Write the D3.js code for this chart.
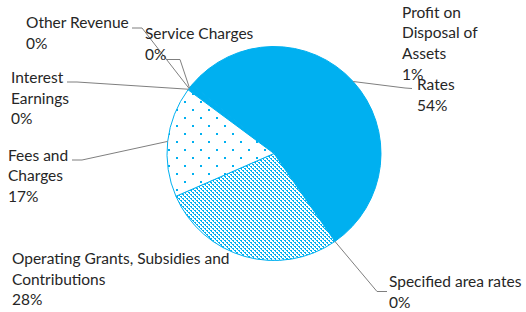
<!DOCTYPE html>
<html>
<head>
<meta charset="utf-8">
<script src="https://cdn.jsdelivr.net/npm/d3@7"></script>
<style>
  body { margin: 0; background: #fff; }
  text { font-family: Lato, "Open Sans", sans-serif; font-size: 15.5px; fill: #262626; }
</style>
</head>
<body>
<svg id="chart" width="526" height="312"></svg>
<script>
// revenue categories, clockwise from the top-left of the pie
const categories = ['Interest Earnings', 'Other Revenue', 'Service Charges', 'Profit on Disposal of Assets',
  'Rates', 'Specified area rates', 'Operating Grants, Subsidies and Contributions', 'Fees and Charges']
const shares = [0.2, 0.1, 0.1, 0.6, 54.2, 0.0, 28.1, 16.7]
const percentLabels = ['0%', '0%', '0%', '1%', '54%', '0%', '28%', '17%']

// label text lines as the chart wraps them
const labelLines = [
  ['Interest', 'Earnings'],
  ['Other Revenue'],
  ['Service Charges'],
  ['Profit on', 'Disposal of', 'Assets'],
  ['Rates'],
  ['Specified area rates'],
  ['Operating Grants, Subsidies and', 'Contributions'],
  ['Fees and', 'Charges']
]

// where each label was dragged to, plus the leader line's bend and end
const labelLayout = {
  'Interest Earnings': {x: 11, y: 83, bend: [77, 82], end: [67, 82]},
  'Other Revenue': {x: 26, y: 28, bend: [142, 28], end: [132, 28]},
  'Service Charges': {x: 145, y: 39, bend: [180, 59.5], end: [166, 59.5]},
  'Profit on Disposal of Assets': {x: 402, y: 17.5},
  'Rates': {x: 417, y: 90, bend: [405, 88], end: [412, 88.5]},
  'Specified area rates': {x: 389, y: 287, bend: [377, 291.5], end: [387, 291.5]},
  'Operating Grants, Subsidies and Contributions': {x: 12, y: 264},
  'Fees and Charges': {x: 8, y: 160.5, bend: [82, 160], end: [72, 160]}
}

const blue = '#00b0f0'
const cx = 274, cy = 153.5, radius = 107
const lineGap = 20.7

const svg = d3.select('#chart')
const defs = svg.append('defs')

// pattern offsets undo the pie group's translate so the pixels stay crisp
let dots = defs.append('pattern')
  .attr('id', 'dots')
  .attr('patternUnits', 'userSpaceOnUse')
  .attr('x', -2).attr('y', 7.5)
  .attr('width', 16).attr('height', 16)
dots.append('rect').attr('width', 16).attr('height', 16).attr('fill', '#fff')
dots.append('rect').attr('x', 8).attr('y', 4).attr('width', 2).attr('height', 2).attr('fill', blue)
dots.append('rect').attr('x', 0).attr('y', 12).attr('width', 2).attr('height', 2).attr('fill', blue)

let diag = defs.append('pattern')
  .attr('id', 'diag')
  .attr('patternUnits', 'userSpaceOnUse')
  .attr('x', 0).attr('y', 0.5)
  .attr('width', 4).attr('height', 4)
diag.append('rect').attr('width', 4).attr('height', 4).attr('fill', '#fff')
;[[0, 0], [1, 1], [2, 2], [3, 3], [1, 0], [3, 2]].forEach(([x, y]) => {
  diag.append('rect').attr('x', x).attr('y', y).attr('width', 1).attr('height', 1).attr('fill', blue)
})

const fills = {
  'Operating Grants, Subsidies and Contributions': 'url(#diag)',
  'Fees and Charges': 'url(#dots)'
}

const start = -53.45 * Math.PI / 180
const pie = d3.pie()
  .sort(null)
  .value(d => d.value)
  .startAngle(start)
  .endAngle(start + 2 * Math.PI)

const data = categories.map((c, i) => ({name: c, value: shares[i], pct: percentLabels[i], lines: labelLines[i]}))
const arcs = pie(data)

const arc = d3.arc().innerRadius(0).outerRadius(radius)

const g = svg.append('g').attr('transform', `translate(${cx},${cy})`)

g.selectAll('path.slice')
  .data(arcs.filter(a => a.data.value > 0))
  .join('path')
  .attr('class', 'slice')
  .attr('d', arc)
  .attr('fill', d => fills[d.data.name] || blue)
  .attr('stroke', blue)
  .attr('stroke-width', 1)

// leader lines from the edge of each slice to its label
const line = d3.line()
arcs.forEach(a => {
  const lay = labelLayout[a.data.name]
  if (!lay.end) return
  const mid = (a.startAngle + a.endAngle) / 2
  const p0 = [cx + radius * Math.sin(mid), cy - radius * Math.cos(mid)]
  svg.append('path')
    .attr('d', line([p0, lay.bend, lay.end]))
    .attr('fill', 'none')
    .attr('stroke', '#7f7f7f')
    .attr('stroke-width', 1)
})

arcs.forEach(a => {
  const lay = labelLayout[a.data.name]
  const rows = a.data.lines.concat([a.data.pct])
  const t = svg.append('text').attr('x', lay.x).attr('y', lay.y)
  rows.forEach((r, i) => {
    t.append('tspan')
      .attr('x', lay.x)
      .attr('y', lay.y + i * lineGap)
      .text(r)
  })
})
</script>
</body>
</html>
